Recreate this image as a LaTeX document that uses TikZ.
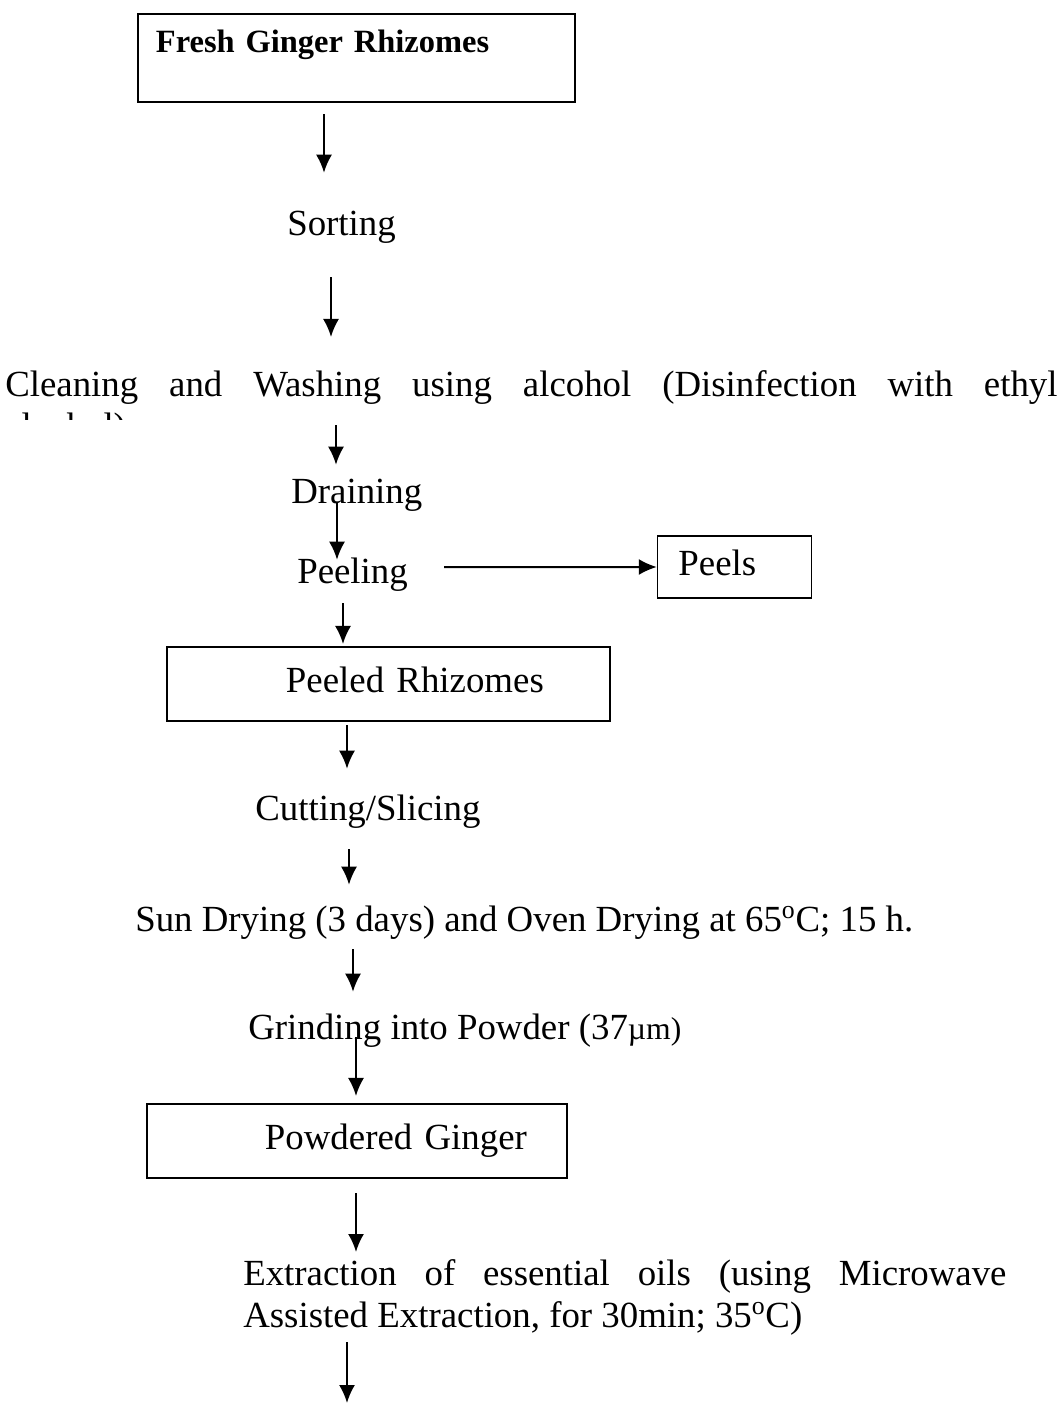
\documentclass[tikz,border=0pt]{standalone}
\usepackage{fontspec}
\setmainfont{Liberation Serif}
\usetikzlibrary{positioning,arrows.meta}
\hyphenpenalty=10000
\tolerance=9999
\tikzstyle{stage}=[draw, line width=0.05cm, inner sep=0pt, align=left, text height=0.65cm, text depth=0.225cm, minimum height=1.85cm, font=\fontsize{26.2}{29.9}\selectfont]
\tikzstyle{proc}=[inner sep=0pt, text height=0.65cm, text depth=0.225cm, font=\fontsize{26.2}{29.9}\selectfont]
\tikzstyle{para}=[inner sep=0pt, align=justify, text height=0.65cm, font=\fontsize{26.2}{29.9}\selectfont]
\tikzstyle{flow}=[->, line width=0.05cm]

\begin{document}
\begin{tikzpicture}[x=0.025cm,y=-0.025cm,>={Latex[length=0.45cm,width=0.4cm]}]
\useasboundingbox (0,0) rectangle (1062,1412);

\node[stage, text width=10.925cm, text height=0.975cm, text depth=1.225cm, font=\fontsize{23.1}{26}\selectfont\bfseries] at (356.5,58) (fresh) {\hspace*{0.45cm}Fresh Ginger Rhizomes};
\node[proc, anchor=base west] at (287,235) (sort) {Sorting};
\draw[flow] ([shift={(-32.5,11)}]fresh.south) -- ([shift={(37,-36)}]sort.north west);

\begin{scope}
\clip (0,0) rectangle (1062,419);
\node[para, text width=26.3cm, anchor=base west] at (5,396) (clean) {Cleaning and Washing using alcohol (Disinfection with ethyl\linebreak alcohol)};
\end{scope}
\draw[flow] ([shift={(44,33)}]sort.south west) -- ([shift={(326,-59)}]clean.base west);

\node[proc, anchor=base west] at (291,503) (drain) {Draining};
\draw[flow] ([shift={(331,29)}]clean.base west) -- ([shift={(45,-12)}]drain.north west);

\node[proc, anchor=base west] at (297,583) (peel) {Peeling};
\draw[flow] ([shift={(46,0)}]drain.base west) -- ([shift={(40,3)}]peel.north west);

\node[stage, line width=0.03cm, text width=3.85cm, minimum height=1.55cm, right of = peel, node distance = 9.545cm, yshift=0.1875cm] (peels) {\hspace*{0.525cm}Peels};
\draw[flow] ([shift={(36,-7.5)}]peel.east) -- (peels.west);

\node[stage, text width=11.075cm] at (388.5,684) (peeled) {\hspace*{2.975cm}Peeled Rhizomes};
\draw[flow] ([shift={(46,11)}]peel.south west) -- ([shift={(-45.5,-2)}]peeled.north);

\node[proc, anchor=base west] at (255,820) (cut) {Cutting/Slicing};
\draw[flow] ([shift={(-41.5,3)}]peeled.south) -- ([shift={(92,-25)}]cut.north west);

\node[proc, anchor=base west] at (135,931) (sun) {Sun Drying (3 days) and Oven Drying at 65\textsuperscript{o}C; 15 h.};
\draw[flow] ([shift={(94,20)}]cut.south west) -- ([shift={(214,-20)}]sun.north west);

\node[proc, anchor=base west] at (248,1039) (grind) {Grinding into Powder (37{\fontsize{22.5}{26}\selectfont µm)}};
\draw[flow] ([shift={(218,9)}]sun.south west) -- ([shift={(105,-21)}]grind.north west);

\node[stage, text width=10.5cm] at (357,1141) (powd) {\hspace*{2.95cm}Powdered Ginger};
\draw[flow] ([shift={(108,-2)}]grind.base west) -- ([shift={(-1,-7)}]powd.north);

\node[para, text width=19.075cm, anchor=base west] at (243,1285) (extr) {Extraction of essential oils (using Microwave Assisted Extraction, for 30min; 35\textsuperscript{o}C)};
\draw[flow] ([shift={(-1,14)}]powd.south) -- ([shift={(113,-33)}]extr.base west);

\coordinate (fin) at (347,1403);
\draw[flow] ([shift={(104,57)}]extr.base west) -- (fin);
\end{tikzpicture}
\end{document}
